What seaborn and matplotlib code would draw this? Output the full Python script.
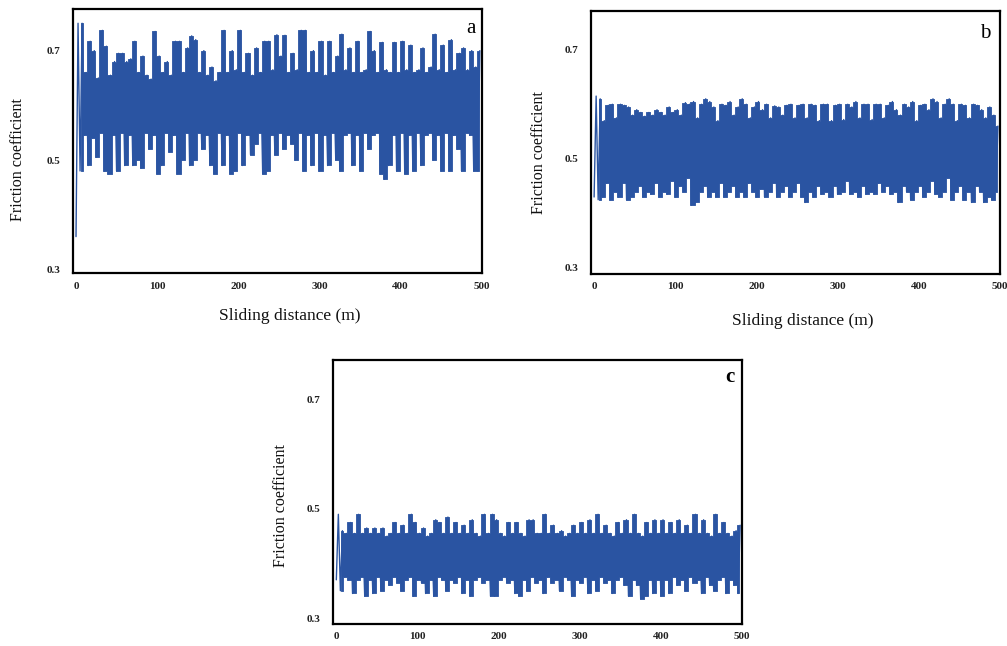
import numpy as np
import pandas as pd
import matplotlib
matplotlib.use("Agg")
import matplotlib.pyplot as plt
import seaborn as sns

# Peak (upper) and valley (lower) readings of the friction trace, one pair every 5 m
a_upper = [0.75, 0.75, 0.66, 0.717, 0.70, 0.65, 0.737, 0.708, 0.655, 0.68,
           0.695, 0.695, 0.68, 0.685, 0.717, 0.66, 0.69, 0.655, 0.648, 0.735,
           0.69, 0.66, 0.68, 0.655, 0.717, 0.717, 0.66, 0.705, 0.727, 0.72,
           0.66, 0.70, 0.655, 0.67, 0.645, 0.66, 0.737, 0.66, 0.70, 0.665,
           0.737, 0.66, 0.695, 0.655, 0.705, 0.66, 0.717, 0.717, 0.665, 0.729,
           0.69, 0.728, 0.66, 0.695, 0.665, 0.737, 0.737, 0.66, 0.70, 0.66,
           0.717, 0.655, 0.717, 0.66, 0.69, 0.73, 0.665, 0.705, 0.66, 0.717,
           0.66, 0.665, 0.735, 0.70, 0.66, 0.715, 0.665, 0.66, 0.715, 0.66,
           0.717, 0.665, 0.71, 0.66, 0.665, 0.705, 0.66, 0.67, 0.73, 0.665,
           0.71, 0.66, 0.72, 0.665, 0.695, 0.705, 0.665, 0.70, 0.67, 0.70]
a_lower = [0.36, 0.48, 0.545, 0.49, 0.54, 0.505, 0.55, 0.48, 0.475, 0.545,
           0.48, 0.55, 0.49, 0.545, 0.49, 0.50, 0.485, 0.55, 0.52, 0.545,
           0.475, 0.49, 0.55, 0.515, 0.545, 0.475, 0.50, 0.55, 0.49, 0.50,
           0.55, 0.52, 0.545, 0.49, 0.475, 0.55, 0.49, 0.545, 0.475, 0.48,
           0.55, 0.49, 0.545, 0.51, 0.53, 0.55, 0.475, 0.48, 0.545, 0.51,
           0.55, 0.52, 0.545, 0.53, 0.50, 0.55, 0.48, 0.545, 0.49, 0.55,
           0.48, 0.545, 0.49, 0.55, 0.50, 0.48, 0.545, 0.55, 0.49, 0.545,
           0.48, 0.55, 0.52, 0.545, 0.55, 0.475, 0.465, 0.49, 0.545, 0.48,
           0.55, 0.475, 0.545, 0.48, 0.55, 0.49, 0.545, 0.55, 0.50, 0.545,
           0.48, 0.55, 0.48, 0.545, 0.52, 0.48, 0.55, 0.545, 0.48, 0.48]

b_upper = [0.615, 0.61, 0.57, 0.598, 0.60, 0.575, 0.60, 0.598, 0.595, 0.58,
           0.59, 0.585, 0.578, 0.585, 0.58, 0.59, 0.585, 0.58, 0.595, 0.585,
           0.59, 0.58, 0.603, 0.60, 0.605, 0.575, 0.60, 0.61, 0.605, 0.595,
           0.57, 0.60, 0.598, 0.605, 0.58, 0.595, 0.61, 0.60, 0.575, 0.595,
           0.605, 0.59, 0.60, 0.575, 0.597, 0.595, 0.58, 0.598, 0.60, 0.575,
           0.598, 0.60, 0.575, 0.60, 0.598, 0.57, 0.60, 0.60, 0.57, 0.598,
           0.60, 0.572, 0.60, 0.595, 0.605, 0.575, 0.60, 0.60, 0.572, 0.60,
           0.60, 0.575, 0.598, 0.605, 0.59, 0.58, 0.60, 0.595, 0.605, 0.57,
           0.598, 0.60, 0.59, 0.61, 0.605, 0.575, 0.60, 0.61, 0.60, 0.57,
           0.60, 0.598, 0.575, 0.60, 0.598, 0.59, 0.575, 0.595, 0.58, 0.56]
b_lower = [0.43, 0.425, 0.43, 0.455, 0.425, 0.44, 0.43, 0.455, 0.425, 0.43,
           0.44, 0.45, 0.43, 0.44, 0.435, 0.455, 0.43, 0.44, 0.435, 0.46,
           0.43, 0.45, 0.44, 0.465, 0.415, 0.42, 0.44, 0.45, 0.43, 0.44,
           0.43, 0.455, 0.43, 0.44, 0.45, 0.43, 0.44, 0.43, 0.455, 0.44,
           0.43, 0.445, 0.43, 0.44, 0.455, 0.43, 0.44, 0.45, 0.43, 0.44,
           0.455, 0.43, 0.42, 0.44, 0.43, 0.45, 0.435, 0.44, 0.43, 0.45,
           0.435, 0.44, 0.46, 0.435, 0.44, 0.43, 0.45, 0.435, 0.44, 0.435,
           0.455, 0.44, 0.45, 0.435, 0.44, 0.42, 0.45, 0.44, 0.425, 0.44,
           0.45, 0.43, 0.44, 0.46, 0.435, 0.43, 0.44, 0.465, 0.425, 0.44,
           0.45, 0.425, 0.44, 0.42, 0.45, 0.44, 0.42, 0.43, 0.425, 0.44]

c_upper = [0.49, 0.46, 0.455, 0.475, 0.455, 0.49, 0.455, 0.465, 0.455, 0.465,
           0.455, 0.465, 0.45, 0.455, 0.475, 0.455, 0.47, 0.455, 0.49, 0.475,
           0.455, 0.465, 0.45, 0.455, 0.48, 0.475, 0.455, 0.485, 0.455, 0.475,
           0.455, 0.47, 0.455, 0.48, 0.455, 0.45, 0.49, 0.455, 0.49, 0.48,
           0.455, 0.45, 0.475, 0.455, 0.475, 0.455, 0.45, 0.48, 0.48, 0.455,
           0.455, 0.49, 0.455, 0.47, 0.455, 0.46, 0.45, 0.455, 0.47, 0.455,
           0.475, 0.455, 0.48, 0.455, 0.49, 0.455, 0.47, 0.455, 0.45, 0.475,
           0.455, 0.48, 0.455, 0.49, 0.455, 0.45, 0.475, 0.455, 0.48, 0.455,
           0.48, 0.455, 0.475, 0.455, 0.48, 0.455, 0.47, 0.455, 0.49, 0.455,
           0.48, 0.455, 0.45, 0.49, 0.455, 0.475, 0.455, 0.45, 0.46, 0.47]
c_lower = [0.37, 0.35, 0.375, 0.37, 0.345, 0.37, 0.375, 0.34, 0.37, 0.345,
           0.375, 0.35, 0.37, 0.36, 0.375, 0.365, 0.35, 0.37, 0.375, 0.34,
           0.37, 0.365, 0.345, 0.37, 0.34, 0.375, 0.37, 0.35, 0.37, 0.365,
           0.375, 0.345, 0.37, 0.34, 0.37, 0.375, 0.365, 0.37, 0.34, 0.34,
           0.37, 0.375, 0.365, 0.37, 0.345, 0.34, 0.37, 0.35, 0.375, 0.365,
           0.37, 0.345, 0.375, 0.365, 0.37, 0.35, 0.375, 0.37, 0.34, 0.37,
           0.365, 0.375, 0.345, 0.37, 0.35, 0.375, 0.365, 0.37, 0.345, 0.37,
           0.375, 0.36, 0.34, 0.37, 0.36, 0.335, 0.34, 0.37, 0.345, 0.37,
           0.34, 0.37, 0.345, 0.375, 0.36, 0.37, 0.35, 0.375, 0.365, 0.37,
           0.345, 0.375, 0.36, 0.35, 0.37, 0.375, 0.345, 0.37, 0.36, 0.345]

x_ticks = [0, 100, 200, 300, 400, 500]
y_ticks = [0.3, 0.5, 0.7]
panel_labels = ['a', 'b', 'c']

line_color = '#2a54a2'

sns.set_style("white")
plt.rcParams['font.family'] = ['Liberation Serif', 'DejaVu Serif']


def trace(lower, upper):
    # interleave valleys and peaks into one zig-zag trace
    vals = np.column_stack([lower, upper]).ravel()
    dist = np.arange(len(vals)) * 2.5
    return pd.DataFrame({'distance': dist, 'friction': vals})


fig = plt.figure(figsize=(10.07, 6.46), dpi=100)

panels = [
    # lower, upper, axes rect, ylim, xlabel pos, ylabel pos, letter pos, letter bold
    (a_lower, a_upper, [0.0725, 0.577, 0.406, 0.409], (0.293, 0.776),
     (0.53, -0.16), (-0.134, 0.43), (0.973, 0.928), False),
    (b_lower, b_upper, [0.587, 0.576, 0.406, 0.407], (0.289, 0.771),
     (0.518, -0.18), (-0.127, 0.46), (0.963, 0.916), False),
    (c_lower, c_upper, [0.331, 0.034, 0.406, 0.409], (0.289, 0.773),
     None, (-0.127, 0.45), (0.971, 0.936), True),
]

for (lower, upper, rect, ylim, xl_pos, yl_pos, let_pos, bold), letter in zip(panels, panel_labels):
    ax = fig.add_axes(rect)
    df = trace(lower, upper)
    # solid band between valley and peak readings, then the trace itself on top
    band_x = np.arange(len(lower)) * 5.0 + 1.25
    ax.fill_between(band_x[1:], lower[1:], upper[1:], step='mid',
                    color=line_color, linewidth=0.6, edgecolor=line_color)
    sns.lineplot(data=df, x='distance', y='friction', ax=ax, color=line_color,
                 linewidth=1.0, estimator=None, sort=False)
    ax.set_xlim(-3.7, 497.5)
    ax.set_ylim(*ylim)
    ax.set_xticks(x_ticks)
    ax.set_yticks(y_ticks)
    ax.set_xticklabels([str(t) for t in x_ticks], fontsize=8, fontweight='bold', color='#222222')
    ax.set_yticklabels([str(t) for t in y_ticks], fontsize=8, fontweight='bold', color='#222222')
    ax.tick_params(axis='x', length=0, pad=6)
    ax.tick_params(axis='y', length=0, pad=9)
    ax.set_xlabel('')
    ax.set_ylabel('')
    for sp in ax.spines.values():
        sp.set_visible(True)
        sp.set_color('black')
        sp.set_linewidth(1.6)
    if xl_pos is not None:
        ax.text(xl_pos[0], xl_pos[1], 'Sliding distance (m)', transform=ax.transAxes,
                ha='center', va='center', fontsize=12.5, color='#111111')
    ax.text(yl_pos[0], yl_pos[1], 'Friction coefficient', transform=ax.transAxes,
            ha='center', va='center', rotation=90, fontsize=11.5, color='#111111')
    ax.text(let_pos[0], let_pos[1], letter, transform=ax.transAxes, ha='center', va='center',
            fontsize=15, fontweight='bold' if bold else 'normal', color='black')

fig.savefig('out.png', dpi=100)
